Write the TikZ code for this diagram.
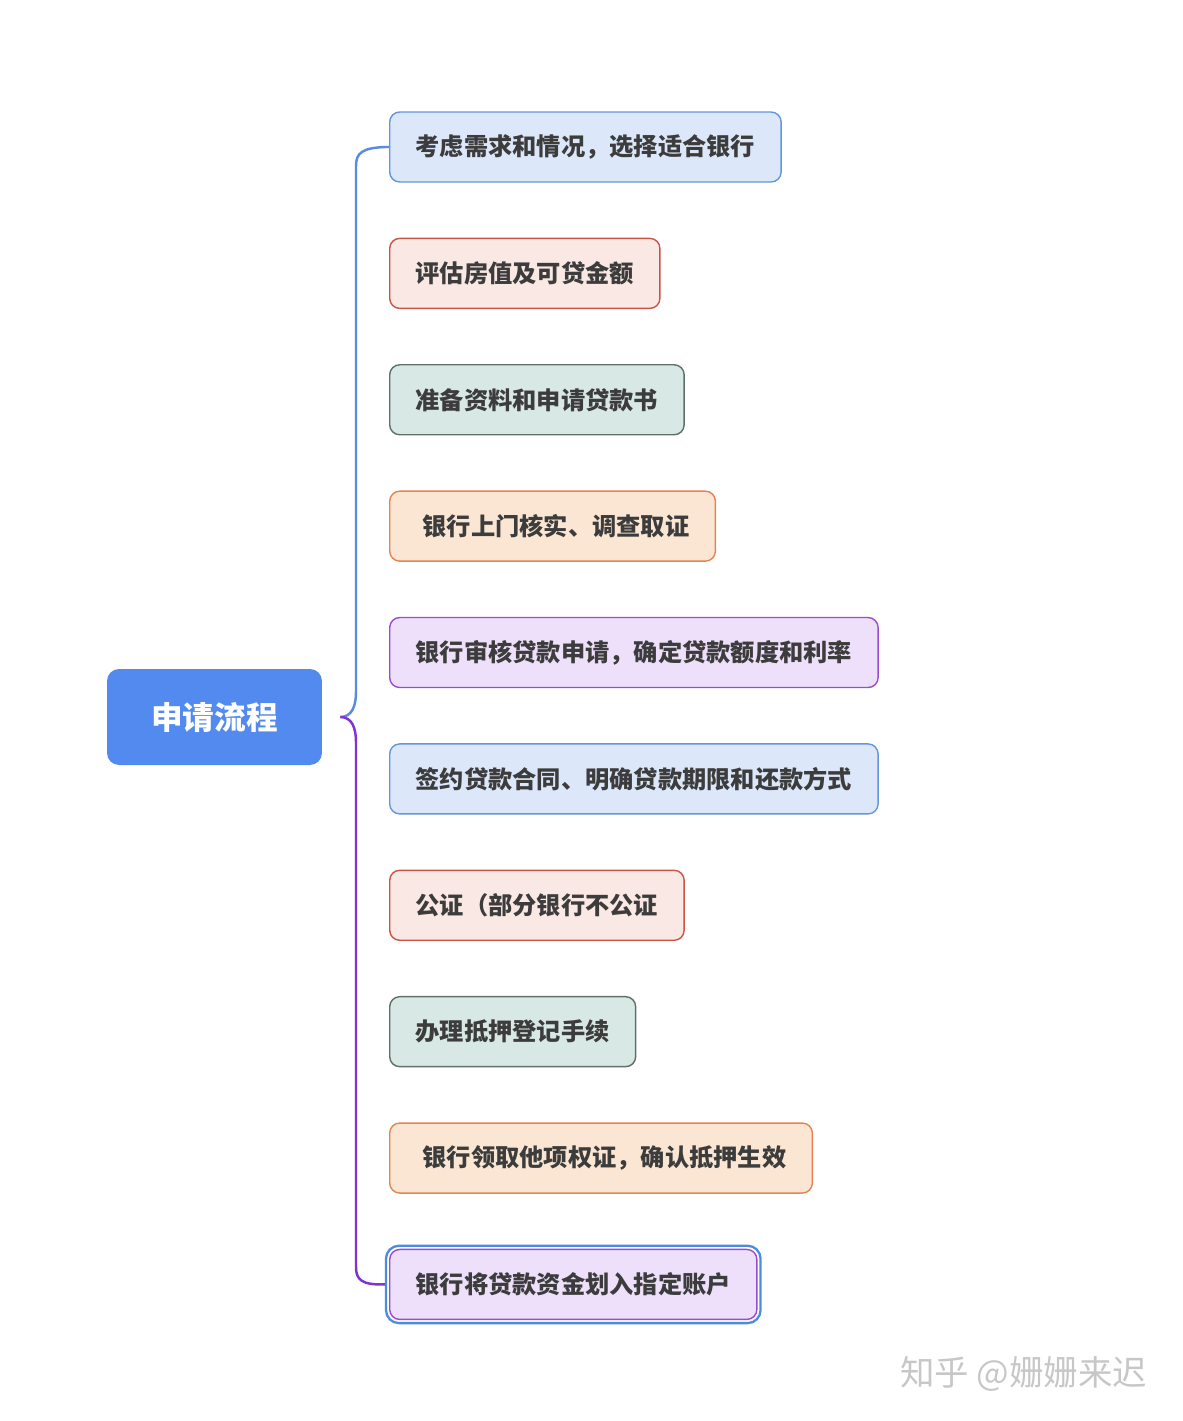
\documentclass[tikz,border=0pt]{standalone}
\usepackage{fontspec}
\setmainfont{Noto Sans CJK SC}
\usetikzlibrary{positioning, fit}

\definecolor{txtgray}{RGB}{60,60,60}
\definecolor{rootblue}{RGB}{82,138,240}
\definecolor{blueF}{RGB}{220,232,250}  \definecolor{blueD}{RGB}{100,150,222}
\definecolor{redF}{RGB}{250,232,228}   \definecolor{redD}{RGB}{200,85,72}
\definecolor{greenF}{RGB}{216,232,228} \definecolor{greenD}{RGB}{95,112,104}
\definecolor{orangeF}{RGB}{250,230,210}\definecolor{orangeD}{RGB}{228,132,84}
\definecolor{purpleF}{RGB}{238,224,250}\definecolor{purpleD}{RGB}{155,75,205}
\definecolor{upline}{RGB}{90,140,220}
\definecolor{downline}{RGB}{130,50,210}
\definecolor{selblue}{RGB}{75,140,222}

\tikzset{
    item/.style={draw, rounded corners=0.2cm, line width=0.8pt, minimum height=1.4cm,
        inner xsep=0.52cm, text=txtgray, font=\fontsize{13.8pt}{16pt}\selectfont\bfseries},
    blueitem/.style={item, fill=blueF, draw=blueD},
    reditem/.style={item, fill=redF, draw=redD},
    greenitem/.style={item, fill=greenF, draw=greenD},
    orangeitem/.style={item, fill=orangeF, draw=orangeD},
    purpleitem/.style={item, fill=purpleF, draw=purpleD},
    branch/.style={line width=1.4pt}
}

\begin{document}
\begin{tikzpicture}[x=0.02cm, y=-0.02cm]
    \useasboundingbox (0,0) rectangle (1183,1421);

    % Nodes
    \node[fill=rootblue, rounded corners=0.24cm, minimum width=4.3cm, minimum height=1.92cm,
        text=white, font=\fontsize{18pt}{20pt}\selectfont\bfseries] (root) at (214.5,717) {申请流程};
    \node[blueitem, anchor=west] (s1) at (389,147) {考虑需求和情况，选择适合银行};
    \node[reditem, below=1.1cm of s1.south west, anchor=north west] (s2) {评估房值及可贷金额};
    \node[greenitem, below=1.1cm of s2.south west, anchor=north west] (s3) {准备资料和申请贷款书};
    \node[orangeitem, below=1.1cm of s3.south west, anchor=north west] (s4) {\hspace{0.14cm}银行上门核实、调查取证};
    \node[purpleitem, below=1.1cm of s4.south west, anchor=north west] (s5) {银行审核贷款申请，确定贷款额度和利率};
    \node[blueitem, below=1.1cm of s5.south west, anchor=north west] (s6) {签约贷款合同、明确贷款期限和还款方式};
    \node[reditem, below=1.1cm of s6.south west, anchor=north west] (s7) {公证（部分银行不公证};
    \node[greenitem, below=1.1cm of s7.south west, anchor=north west] (s8) {办理抵押登记手续};
    \node[orangeitem, below=1.1cm of s8.south west, anchor=north west] (s9) {\hspace{0.14cm}银行领取他项权证，确认抵押生效};
    \node[purpleitem, below=1.1cm of s9.south west, anchor=north west] (s10) {银行将贷款资金划入指定账户};
    \node[draw=selblue, line width=1.3pt, rounded corners=0.26cm, inner sep=0.06cm, fit=(s10)] (sel) {};

    \node[text=black!22, font=\fontsize{19.6pt}{21pt}\selectfont, anchor=west] (mark) at (894,1374) {知乎 @姗姗来迟};

    % Connections
    \coordinate (tip) at ([xshift=0.36cm]root.east);
    \draw[branch, upline] (tip) .. controls (352,717) and (356,706) .. (356,692) -- (356,166)
        .. controls (356,153) and (362,148) .. (sel.west |- s1.west) -- (s1.west);
    \draw[branch, downline] (tip) .. controls (352,717) and (356,728) .. (356,742) -- (356,1267)
        .. controls (356,1280) and (362,1285) .. (sel.west);
\end{tikzpicture}
\end{document}
